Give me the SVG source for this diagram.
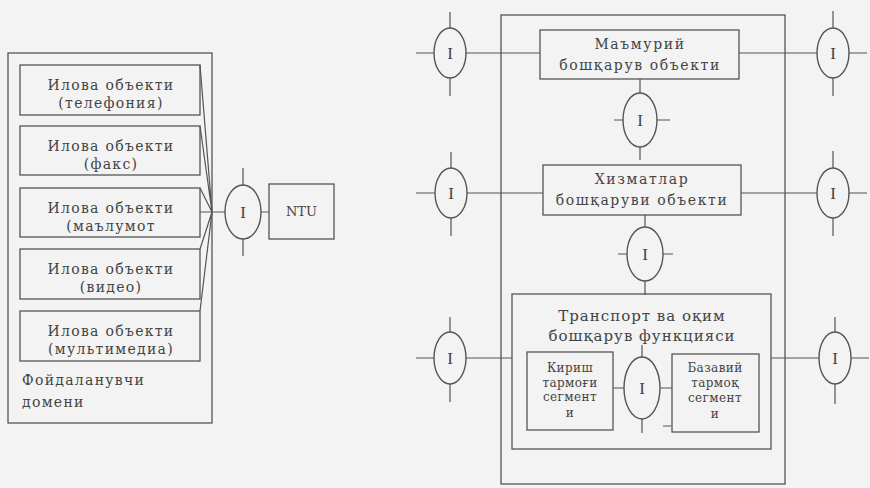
<svg xmlns="http://www.w3.org/2000/svg" width="870" height="488" viewBox="0 0 870 488">
<style>
.bx{fill:none;stroke:#555;stroke-width:1.3}
.ln{fill:none;stroke:#555;stroke-width:1.2}
.el{fill:none;stroke:#555;stroke-width:1.4}
.t{font-family:"DejaVu Serif","Liberation Serif",serif;fill:#444;text-anchor:middle}
.t14{font-size:14px;letter-spacing:1.3px}
.t13{font-size:14px;letter-spacing:1.6px}
.t15{font-size:15px;letter-spacing:1px}
.ts{font-size:12px;letter-spacing:0.4px}
.tn{font-size:13px}
.ti{font-family:"Liberation Serif",serif;font-size:17px;fill:#444;text-anchor:middle}
</style>
<rect width="870" height="488" fill="#f3f3f3"/>

<g id="user-domain">
<rect class="bx" x="8" y="53" width="204" height="370"/>
<text class="t t14" x="22" y="385" style="text-anchor:start">Фойдаланувчи</text>
<text class="t t14" x="22" y="407" style="text-anchor:start">домени</text>
</g>
<g id="obj-telephony">
<rect class="bx" x="20" y="65" width="180" height="50"/>
<text class="t t14" x="111" y="90">Илова объекти</text>
<text class="t t14" x="111" y="108">(телефония)</text>
</g>
<g id="obj-fax">
<rect class="bx" x="20" y="126" width="180" height="49"/>
<text class="t t14" x="111" y="151">Илова объекти</text>
<text class="t t14" x="111" y="169">(факс)</text>
</g>
<g id="obj-data">
<rect class="bx" x="20" y="188" width="180" height="49"/>
<text class="t t14" x="111" y="213">Илова объекти</text>
<text class="t t14" x="111" y="231">(маълумот</text>
</g>
<g id="obj-video">
<rect class="bx" x="20" y="249" width="180" height="50"/>
<text class="t t14" x="111" y="274">Илова объекти</text>
<text class="t t14" x="111" y="292">(видео)</text>
</g>
<g id="obj-multimedia">
<rect class="bx" x="20" y="311" width="180" height="50"/>
<text class="t t14" x="111" y="336">Илова объекти</text>
<text class="t t14" x="111" y="354">(мультимедиа)</text>
</g>
<g id="if-user">
<ellipse class="el" cx="243" cy="212" rx="18" ry="27"/>
<text class="ti" x="243" y="218">I</text>
</g>
<g id="ntu">
<rect class="bx" x="269" y="184" width="65" height="55"/>
<text class="t tn" x="301.5" y="216">NTU</text>
</g>

<g id="mgmt-area">
<rect class="bx" x="501" y="15" width="284" height="469"/>
</g>
<g id="admin-obj">
<rect class="bx" x="540" y="30" width="199" height="49"/>
<text class="t t13" x="640" y="49">Маъмурий</text>
<text class="t t13" x="640" y="70">бошқарув объекти</text>
</g>
<g id="service-obj">
<rect class="bx" x="543" y="165" width="198" height="50"/>
<text class="t t13" x="642" y="184">Хизматлар</text>
<text class="t t13" x="642" y="205">бошқаруви объекти</text>
</g>
<g id="transport">
<rect class="bx" x="512" y="294" width="259" height="155"/>
<text class="t t15" x="642" y="321">Транспорт ва оқим</text>
<text class="t t15" x="642" y="341">бошқарув функцияси</text>
</g>
<g id="access-seg">
<rect class="bx" x="527" y="352" width="86" height="78"/>
<text class="t ts" x="570" y="372">Кириш</text>
<text class="t ts" x="570" y="387">тармоғи</text>
<text class="t ts" x="570" y="401">сегмент</text>
<text class="t ts" x="570" y="417">и</text>
</g>
<g id="core-seg">
<rect class="bx" x="672" y="354" width="87" height="78"/>
<text class="t ts" x="715" y="372">Базавий</text>
<text class="t ts" x="715" y="387">тармоқ</text>
<text class="t ts" x="715" y="402">сегмент</text>
<text class="t ts" x="715" y="418">и</text>
</g>

<g id="if-l1"><ellipse class="el" cx="450" cy="53" rx="16" ry="25"/><text class="ti" x="450" y="59">I</text></g>
<g id="if-r1"><ellipse class="el" cx="833" cy="53" rx="16" ry="25"/><text class="ti" x="833" y="59">I</text></g>
<g id="if-l2"><ellipse class="el" cx="451" cy="193" rx="16" ry="25"/><text class="ti" x="451" y="199">I</text></g>
<g id="if-r2"><ellipse class="el" cx="833" cy="193" rx="16" ry="25"/><text class="ti" x="833" y="199">I</text></g>
<g id="if-l3"><ellipse class="el" cx="450" cy="358" rx="16" ry="26"/><text class="ti" x="450" y="364">I</text></g>
<g id="if-r3"><ellipse class="el" cx="835" cy="358" rx="16" ry="26"/><text class="ti" x="835" y="364">I</text></g>
<g id="if-m1"><ellipse class="el" cx="640" cy="120" rx="17" ry="27"/><text class="ti" x="640" y="126">I</text></g>
<g id="if-m2"><ellipse class="el" cx="645" cy="254" rx="18" ry="27"/><text class="ti" x="645" y="260">I</text></g>
<g id="if-m3"><ellipse class="el" cx="642" cy="388" rx="18" ry="31"/><text class="ti" x="642" y="394">I</text></g>

<g id="connectors">
<path class="ln" d="M200 65 L212 212 M200 126 L212 212 M200 188 L212 212 M200 249 L212 212 M200 311 L212 212 M200 212 H225"/>
<path class="ln" d="M243 168 V185 M243 239 V256 M261 212 H269"/>
<path class="ln" d="M466 53 H540 M739 53 H817"/>
<path class="ln" d="M450 12 V28 M450 78 V96 M416 53 H434 M833 11 V28 M833 78 V96 M849 53 H867"/>
<path class="ln" d="M467 193 H543 M741 193 H817"/>
<path class="ln" d="M451 152 V168 M451 218 V236 M416 193 H435 M833 151 V168 M833 218 V236 M849 193 H867"/>
<path class="ln" d="M466 358 H512 M771 358 H819"/>
<path class="ln" d="M450 317 V332 M450 384 V402 M416 358 H434 M835 317 V332 M835 384 V404 M851 358 H869"/>
<path class="ln" d="M640 79 V93 M640 147 V160 M614 120 H623 M657 120 H670"/>
<path class="ln" d="M645 215 V227 M645 281 V295 M618 254 H627 M663 254 H673"/>
<path class="ln" d="M642 345 V357 M642 419 V433 M613 388 H624 M660 388 H672 M663 426 H671"/>
</g>
</svg>
